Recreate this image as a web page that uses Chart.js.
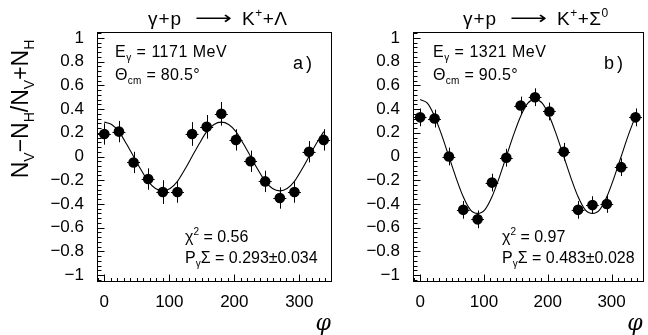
<!DOCTYPE html>
<html><head><meta charset="utf-8">
<script src="https://cdn.jsdelivr.net/npm/chart.js@4"></script>
<style>
html,body{margin:0;padding:0;background:#fff;}
#wrap{position:relative;width:648px;height:335px;overflow:hidden;}
canvas{position:absolute;top:0;}
</style></head><body>
<div id="wrap">
<canvas id="ca" width="340" height="335" style="left:0"></canvas>
<canvas id="cb" width="308" height="335" style="left:340px"></canvas>
</div>
<script>
// ---- data ----
const phiBins = [0,22.5,45,67.5,90,112.5,135,157.5,180,202.5,225,247.5,270,292.5,315,337.5];
const asymA = [0.19,0.21,-0.05,-0.19,-0.30,-0.30,0.19,0.25,0.36,0.14,-0.04,-0.21,-0.35,-0.30,0.04,0.14];
const errA  = [0.09,0.09,0.09,0.09,0.10,0.09,0.10,0.10,0.10,0.09,0.09,0.09,0.09,0.09,0.09,0.09];
const asymB = [0.33,0.32,0.00,-0.45,-0.53,-0.22,-0.01,0.43,0.50,0.38,0.04,-0.45,-0.41,-0.40,-0.09,0.33];
const errB  = [0.075,0.075,0.075,0.075,0.075,0.075,0.075,0.075,0.075,0.075,0.075,0.075,0.075,0.075,0.075,0.075];
const phiErr = 10;
const fitPhi = [0,11.25,22.5,33.75,45,56.25,67.5,78.75,90,101.25,112.5,123.75,135,146.25,157.5,168.75,180,191.25,202.5,213.75,225,236.25,247.5,258.75,270,281.25,292.5,303.75,315,326.25,337.5];
const fitA = [0.29,0.27,0.21,0.11,0,-0.11,-0.21,-0.27,-0.29,-0.27,-0.21,-0.11,0,0.11,0.21,0.27,0.29,0.27,0.21,0.11,0,-0.11,-0.21,-0.27,-0.29,-0.27,-0.21,-0.11,0,0.11,0.21];
const fitB = [0.48,0.45,0.34,0.18,0,-0.18,-0.34,-0.45,-0.48,-0.45,-0.34,-0.18,0,0.18,0.34,0.45,0.48,0.45,0.34,0.18,0,-0.18,-0.34,-0.45,-0.48,-0.45,-0.34,-0.18,0,0.18,0.34];
const yTickValues = [-1,-0.8,-0.6,-0.4,-0.2,0,0.2,0.4,0.6,0.8,1];
const xTickValues = [0,100,200,300];
const panelA = {reaction:['Λ',''], energy:'1171', theta:'80.5', chi2:'0.56', sigma:'0.293±0.034', tag:'a'};
const panelB = {reaction:['Σ','0'], energy:'1321', theta:'90.5', chi2:'0.97', sigma:'0.483±0.028', tag:'b'};

const FONT = '"Liberation Sans", Arial, sans-serif';

function drawRich(ctx, x, y, parts, size, align, spacing) {
  // parts: [text, mode] mode: 0 normal, 1 sub, 2 sup
  ctx.letterSpacing = (spacing || 0) + 'px';
  let w = 0;
  const sizes = parts.map(p => p[1] ? Math.round(size*0.62) : size);
  parts.forEach((p,i) => { ctx.font = sizes[i] + 'px ' + FONT; w += ctx.measureText(p[0]).width; });
  let cx = align === 'center' ? x - w/2 : x;
  ctx.textAlign = 'left';
  ctx.textBaseline = 'alphabetic';
  parts.forEach((p,i) => {
    ctx.font = sizes[i] + 'px ' + FONT;
    const dy = p[1] === 1 ? size*0.28 : (p[1] === 2 ? -size*0.42 : 0);
    ctx.fillText(p[0], cx, y + dy);
    cx += ctx.measureText(p[0]).width;
  });
  ctx.letterSpacing = '0px';
  return w;
}

function makePlugin(asym, err, info, titleX, annX, chiX, tagX, withYTitle) {
  return {
    id: 'rootStyle' + info.tag,
    beforeDatasetsDraw(chart) {
      const ctx = chart.ctx, xs = chart.scales.x, ys = chart.scales.y;
      ctx.save();
      ctx.strokeStyle = '#000';
      ctx.lineWidth = 1;
      ctx.beginPath();
      phiBins.forEach((p, i) => {
        const px = Math.round(xs.getPixelForValue(p)) + 0.5;
        const py = Math.round(ys.getPixelForValue(asym[i])) + 0.5;
        ctx.moveTo(px, ys.getPixelForValue(asym[i] - err[i]));
        ctx.lineTo(px, ys.getPixelForValue(asym[i] + err[i]));
        ctx.moveTo(xs.getPixelForValue(p - phiErr), py);
        ctx.lineTo(xs.getPixelForValue(p + phiErr), py);
      });
      ctx.stroke();
      ctx.restore();
    },
    afterDraw(chart) {
      const ctx = chart.ctx, xs = chart.scales.x, ys = chart.scales.y, a = chart.chartArea;
      ctx.save();
      ctx.strokeStyle = '#000';
      ctx.fillStyle = '#000';
      ctx.lineWidth = 1;
      const L = Math.round(a.left) + 0.5, R = Math.round(a.right) + 0.5, T = Math.round(a.top) + 0.5, B = Math.round(a.bottom) + 0.5;
      ctx.strokeRect(L, T, R - L, B - T);
      ctx.beginPath();
      for (let k = -26; k <= 26; k++) {
        const v = k * 0.04;
        const py = Math.round(ys.getPixelForValue(v)) + 0.5;
        const len = (k % 5 === 0) ? 7 : 4;
        ctx.moveTo(L, py); ctx.lineTo(L + len, py);
      }
      for (let k = -1; k <= 34; k++) {
        const v = k * 10;
        const px = Math.round(xs.getPixelForValue(v)) + 0.5;
        const len = (k % 10 === 0) ? 7 : 3.5;
        ctx.moveTo(px, B); ctx.lineTo(px, B - len);
      }
      ctx.stroke();

      // panel title
      drawRich(ctx, titleX, 25, [['γ+p',0]], 19, 'left', 1);
      ctx.save();
      ctx.font = '18px "DejaVu Sans", sans-serif';
      const aw = ctx.measureText('⟶').width;
      ctx.translate(titleX + 47, 0);
      ctx.scale(37 / aw, 1);
      ctx.textAlign = 'left'; ctx.textBaseline = 'alphabetic';
      ctx.fillText('⟶', 0, 24);
      ctx.restore();
      const rparts = [['K',0],['+',2],['+' + info.reaction[0],0]];
      if (info.reaction[1]) rparts.push([info.reaction[1],2]);
      drawRich(ctx, titleX + 94, 25, rparts, 19, 'left', 0.5);

      // annotations
      drawRich(ctx, annX, 57, [['E',0],['γ',1],[' = ' + info.energy + ' MeV',0]], 16, 'left', 0.5);
      drawRich(ctx, annX, 80, [['Θ',0],['cm',1],[' = ' + info.theta + '°',0]], 16, 'left', 0.3);
      ctx.font = '18px ' + FONT;
      ctx.textBaseline = 'alphabetic'; ctx.textAlign = 'left';
      ctx.fillText(info.tag, tagX, 69);
      ctx.fillText(')', tagX + 13, 69);
      drawRich(ctx, chiX, 242, [['χ',0],['2',2],[' = ' + info.chi2,0]], 16, 'left');
      drawRich(ctx, chiX, 263, [['P',0],['γ',1],['Σ = ' + info.sigma,0]], 16, 'left');

      if (withYTitle) {
        ctx.save();
        ctx.translate(28, 109);
        ctx.rotate(-Math.PI / 2);
        drawRich(ctx, 0, 0, [['N',0],['V',1],['−',0],['N',0],['H',1],['/',0],['N',0],['V',1],['+',0],['N',0],['H',1]], 23, 'center');
        ctx.restore();
      }
      ctx.restore();
    }
  };
}

function makeChart(id, asym, err, fit, info, geom) {
  const fmt = v => (v < 0 ? '−' : '') + String(Math.abs(v));
  return new Chart(document.getElementById(id), {
    data: {
      datasets: [
        { type: 'scatter', data: phiBins.map((p, i) => ({x: p, y: asym[i]})),
          pointRadius: 5.3, pointHoverRadius: 5.3, backgroundColor: '#000', borderColor: '#000', borderWidth: 0, order: 0 },
        { type: 'line', data: fitPhi.map((p, i) => ({x: p, y: fit[i]})),
          borderColor: '#000', borderWidth: 1.1, pointRadius: 0, fill: false, cubicInterpolationMode: 'monotone', order: 1 }
      ]
    },
    options: {
      responsive: false, animation: false, devicePixelRatio: 1,
      layout: { padding: { left: 0, right: geom.padRight, top: 32, bottom: 0 } },
      plugins: { legend: { display: false }, tooltip: { enabled: false }, title: { display: false } },
      scales: {
        x: { type: 'linear', min: -11.25, max: 348.75,
             grid: { display: false, drawTicks: false }, border: { display: false },
             afterBuildTicks: s => { s.ticks = xTickValues.map(v => ({value: v})); },
             afterFit: s => { s.height = 54; },
             ticks: { color: '#000', font: { family: FONT, size: 17 }, padding: 11, maxRotation: 0, autoSkip: false },
             title: { display: true, text: 'φ', align: 'end', color: '#000',
                      font: { family: '"DejaVu Serif", serif', size: 22, style: 'italic', lineHeight: 1 }, padding: { top: 0, bottom: 0 } } },
        y: { type: 'linear', min: -1.05, max: 1.05,
             grid: { display: false, drawTicks: false }, border: { display: false },
             afterBuildTicks: s => { s.ticks = yTickValues.map(v => ({value: v})); },
             afterFit: s => { s.width = geom.yWidth; },
             ticks: { color: '#000', font: { family: FONT, size: 17 }, padding: 13, autoSkip: false, callback: v => fmt(v) } }
      }
    },
    plugins: [makePlugin(asym, err, info, geom.titleX, geom.annX, geom.chiX, geom.tagX, geom.yTitle)]
  });
}

makeChart('ca', asymA, errA, fitA, panelA, { padRight: 9, yWidth: 97, titleX: 148, annX: 115, chiX: 185, tagX: 293, yTitle: true });
makeChart('cb', asymB, errB, fitB, panelB, { padRight: 3, yWidth: 73, titleX: 123, annX: 93, chiX: 162, tagX: 264, yTitle: false });
</script>
</body></html>
